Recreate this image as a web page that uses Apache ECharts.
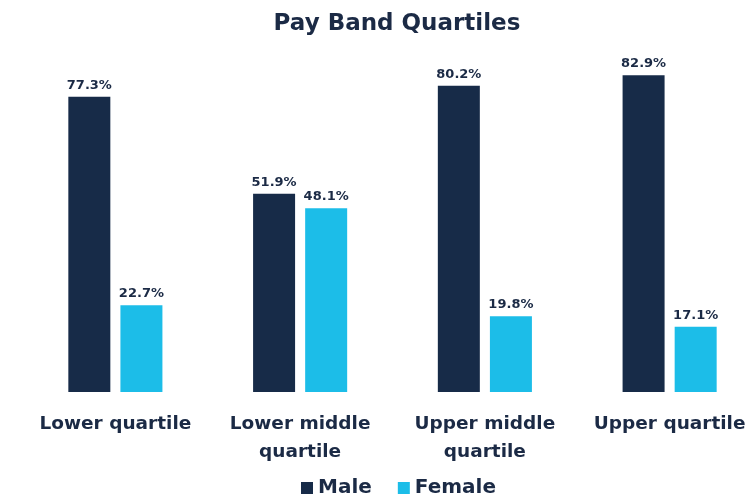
<!DOCTYPE html>
<html><head><meta charset="utf-8">
<script src="https://cdn.jsdelivr.net/npm/echarts@6/dist/echarts.min.js"></script>
<style>html,body{margin:0;padding:0;background:#fff;overflow:hidden;width:746px;height:495px}#c{width:780px;height:495px}</style>
</head><body><div id="c"></div>
<script>
const categories = ['Lower quartile', 'Lower middle\nquartile', 'Upper middle\nquartile', 'Upper quartile'];
const maleValues = [77.3, 51.9, 80.2, 82.9];
const femaleValues = [22.7, 48.1, 19.8, 17.1];
const seriesNames = ['Male', 'Female'];

const FONT = '"DejaVu Sans", sans-serif';
const TXT = '#1b2a45';
const chart = echarts.init(document.getElementById('c'));
const lbl = {show: true, position: 'top', distance: 5, formatter: p => p.value.toFixed(1) + '%',
  color: TXT, fontFamily: FONT, fontWeight: 'bold', fontSize: 13};
chart.setOption({
  animation: false,
  title: {text: 'Pay Band Quartiles', left: 392, top: 8, textAlign: 'center',
    textStyle: {color: TXT, fontFamily: FONT, fontWeight: 'bold', fontSize: 23}},
  legend: {data: seriesNames, left: 296, top: 473, itemWidth: 12, itemHeight: 12, itemGap: 26,
    icon: 'rect', textStyle: {color: TXT, fontFamily: FONT, fontWeight: 'bold', fontSize: 20}},
  grid: {left: 23, width: 739, top: 10, bottom: 103},
  xAxis: {type: 'category', data: categories,
    axisLine: {show: false}, axisTick: {show: false},
    axisLabel: {color: TXT, fontFamily: FONT, fontWeight: 'bold', fontSize: 18.5, lineHeight: 28, margin: 18, interval: 0}},
  yAxis: {type: 'value', min: 0, max: 100, show: false, splitLine: {show: false}},
  series: [
    {name: seriesNames[0], type: 'bar', data: maleValues, barWidth: 42, barGap: '24%',
      itemStyle: {color: '#172b48'}, label: lbl},
    {name: seriesNames[1], type: 'bar', data: femaleValues, barWidth: 42,
      itemStyle: {color: '#1cbde8'}, label: lbl}
  ]
});
</script></body></html>
